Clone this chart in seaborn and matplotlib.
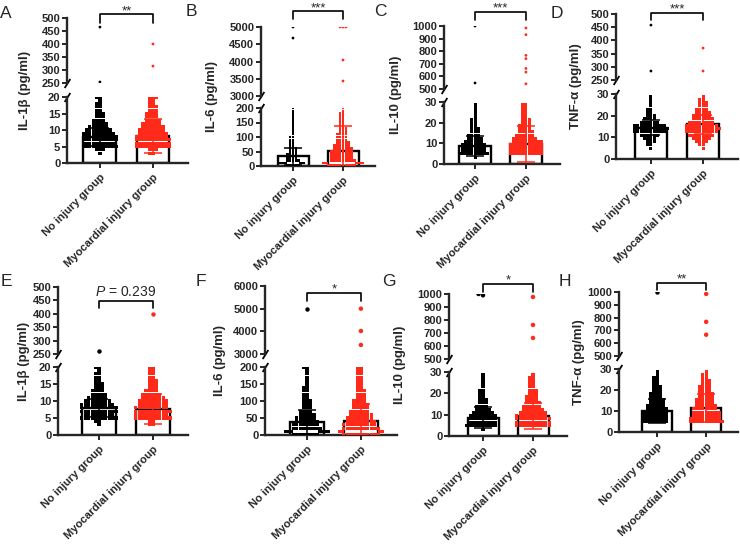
import warnings
import numpy as np
import pandas as pd
import seaborn as sns
import matplotlib.pyplot as plt
from matplotlib.transforms import blended_transform_factory

warnings.filterwarnings("ignore")

groups = ["No injury group", "Myocardial injury group"]
letters = ["A", "B", "C", "D", "E", "F", "G", "H"]
ylabels = ["IL-1β (pg/ml)", "IL-6 (pg/ml)", "IL-10 (pg/ml)", "TNF-α (pg/ml)"] * 2
signif = ["**", "***", "***", "***", "$\\mathit{P}$ = 0.239", "*", "*", "**"]

# axis ranges (lower part / upper part of the broken axis)
lower_top = [20, 200, 30, 30, 20, 200, 30, 30]
lower_step = [5, 50, 10, 10, 5, 50, 10, 10]
upper_lim = [(250, 500), (3000, 5000), (500, 1000), (250, 500),
             (250, 500), (3000, 6000), (500, 1000), (500, 1000)]
upper_step = [50, 500, 100, 50, 50, 1000, 100, 100]

# bars: mean and SD
bar_means = [[7.8, 8.2], [34, 53], [8.8, 9.7], [14.4, 16.0],
             [7.9, 7.6], [39, 42], [8.6, 9.3], [10.0, 11.5]]
bar_sd = [[2.7, 5.1], [29, 86], [4.7, 8.6], [3.5, 4.5],
          [2.6, 4.4], [36, 48], [5.0, 6.0], [5.6, 6.8]]

# value levels of the dot clouds and how many dots sit on each level
lv20 = [3, 4, 5, 6, 7, 8, 9, 10, 11, 12, 13, 14, 15, 16, 17, 18, 19, 20]
lv30 = [3, 5, 6.5, 8, 9.5, 11, 12.5, 14, 15.5, 17, 18.5, 20, 21.5, 23, 24.5, 26, 27.5, 29]
lv200 = [2, 10, 20, 30, 40, 50, 60, 70, 80, 90, 100, 110, 120, 130, 140, 150,
         160, 170, 180, 190, 200]
level_sets = [lv20, lv200, lv30, lv30, lv20, lv200, lv30, lv30]

counts_no = [
    [1, 3, 11, 10, 11, 11, 10, 8, 6, 5, 4, 3, 3, 2, 2, 2, 1, 2],
    [5, 5, 5, 4, 4, 3, 3, 2, 2, 2, 2, 1, 1, 1, 1, 1, 1, 1, 1, 1, 1],
    [1, 10, 8, 8, 8, 6, 5, 4, 3, 3, 2, 2, 2, 1, 1, 1, 1, 1],
    [0, 1, 2, 3, 4, 6, 10, 11, 10, 6, 4, 3, 2, 2, 1, 1, 1, 1],
    [1, 2, 11, 9, 11, 11, 10, 8, 6, 5, 4, 3, 3, 2, 2, 2, 1, 2],
    [8, 9, 9, 8, 7, 6, 5, 4, 3, 3, 3, 2, 2, 2, 2, 1, 1, 1, 1, 1, 2],
    [1, 10, 9, 9, 9, 7, 5, 4, 3, 3, 2, 2, 2, 1, 1, 1, 1, 1],
    [0, 8, 8, 8, 8, 7, 6, 5, 5, 4, 4, 3, 3, 2, 2, 2, 1, 1],
]
counts_mi = [
    [2, 3, 11, 11, 11, 10, 9, 8, 7, 6, 5, 4, 4, 3, 3, 2, 2, 3],
    [10, 10, 9, 8, 8, 8, 7, 6, 5, 4, 4, 4, 3, 3, 2, 2, 2, 2, 2, 1, 1],
    [0, 11, 11, 11, 11, 10, 8, 6, 5, 4, 4, 3, 3, 2, 2, 2, 2, 2],
    [0, 1, 2, 4, 6, 8, 10, 11, 10, 8, 7, 6, 5, 4, 3, 3, 2, 1],
    [2, 2, 11, 10, 11, 10, 9, 9, 7, 6, 4, 3, 3, 3, 2, 2, 2, 2],
    [11, 11, 11, 10, 9, 8, 7, 6, 5, 5, 4, 3, 3, 3, 2, 2, 2, 2, 2, 2, 2],
    [0, 11, 11, 11, 10, 9, 7, 6, 5, 4, 4, 3, 3, 2, 2, 2, 2, 1],
    [0, 11, 10, 9, 9, 8, 7, 6, 6, 5, 5, 4, 4, 3, 3, 2, 2, 1],
]
outliers_no = [[254, 465], [4680, 5000], [548, 1000], [284, 458],
               [261], [5000], [990, 1000], [1000]]
outliers_mi = [[315, 400], [3435, 4043, 5000, 5000, 5000],
               [541, 634, 663, 741, 767, 931, 984], [284, 371],
               [400], [3400, 4015, 5000], [662, 762, 977], [666, 767, 985]]

# layout in pixels of a 740 x 545 canvas
W, H = 740, 545
spine_x = [67, 261, 444, 616, 58, 265, 449, 619]
right_x = [188, 375, 560, 738, 188, 397, 567, 738]
xlims = [(-0.62, 1.66), (-0.64, 1.64), (-0.61, 1.67), (-0.67, 1.67),
         (-0.76, 1.65), (-0.78, 1.67), (-0.68, 1.68), (-0.78, 1.65)]
rows_px = [(18, 83, 97, 163), (27, 96, 108, 166), (26, 89, 102, 164), (14, 80, 94, 159),
           (287, 354, 367, 435), (286, 354, 367, 435), (294, 359, 372, 436), (292, 356, 369, 432)]
ylabel_x = [25, 212, 396, 576, 24, 220, 400, 579]
letter_xy = [(6, 13), (191, 12), (380, 12), (557, 13),
             (6, 282), (201, 282), (389, 282), (565, 282)]
# bracket line y, bracket foot y, text baseline y
bracket_px = [(14, 23, 14), (11, 19, 11), (12, 20, 11), (13, 20, 12),
              (301, 308, 296), (293, 301, 292), (284, 292, 283), (283, 290, 282)]
dot_size = [2.3, 2.0, 2.15, 2.25, 2.35, 2.35, 2.2, 2.2]
dot_up = [2.0, 2.0, 2.0, 2.0, 3.2, 3.2, 3.2, 3.2]

colors = ["black", "#ff2a1a"]

sns.set_style("ticks")
plt.rcParams["font.family"] = ["Liberation Sans", "DejaVu Sans"]
plt.rcParams["mathtext.fontset"] = "custom"
plt.rcParams["mathtext.it"] = "Liberation Sans:italic"
plt.rcParams["mathtext.rm"] = "Liberation Sans"


def px_rect(x0, y0, x1, y1):
    return [x0 / W, 1 - y1 / H, (x1 - x0) / W, (y1 - y0) / H]


def style_axis(ax):
    for side in ["top", "right"]:
        ax.spines[side].set_visible(False)
    for side in ["left", "bottom"]:
        ax.spines[side].set_linewidth(1.7)
    ax.tick_params(direction="out", length=3.5, width=1.4, labelsize=8, pad=1.3)
    ax.tick_params(axis="x", pad=3)
    for lab in ax.get_yticklabels():
        lab.set_fontweight("bold")
    ax.set_xlabel("")
    ax.set_ylabel("")


fig = plt.figure(figsize=(W / 100, H / 100), dpi=100)

for i in range(8):
    up_top, up_bot, lo_top, lo_bot = rows_px[i]
    ax_up = fig.add_axes(px_rect(spine_x[i], up_top, right_x[i], up_bot))
    ax_lo = fig.add_axes(px_rect(spine_x[i], lo_top, right_x[i], lo_bot))

    vals_no = list(np.repeat(level_sets[i], counts_no[i])) + outliers_no[i]
    vals_mi = list(np.repeat(level_sets[i], counts_mi[i])) + outliers_mi[i]
    df = pd.DataFrame({
        "group": [groups[0]] * len(vals_no) + [groups[1]] * len(vals_mi),
        "value": vals_no + vals_mi,
    })
    low = df[df["value"] <= lower_top[i]]
    high = df[df["value"] >= upper_lim[i][0]]

    # lower part: bars, dots, SD
    sns.barplot(x=groups, y=bar_means[i], order=groups, color="white", saturation=1,
                edgecolor="black", linewidth=1.7, width=0.62, errorbar=None,
                ax=ax_lo, zorder=1)
    sns.swarmplot(data=low, x="group", y="value", hue="group", order=groups,
                  hue_order=groups, palette=colors, size=dot_size[i], marker="s",
                  linewidth=0, legend=False, ax=ax_lo, zorder=3)
    for k in range(2):
        ax_lo.errorbar([k], [bar_means[i][k]], yerr=[bar_sd[i][k]], fmt="none",
                       ecolor=colors[k], elinewidth=1.1, capsize=6.5, capthick=1.1,
                       zorder=4)
    ax_lo.set_ylim(0, lower_top[i])
    ax_lo.set_yticks(list(range(0, lower_top[i] + 1, lower_step[i])))
    ax_lo.set_xlim(*xlims[i])
    ax_lo.set_xticks([0, 1])
    ax_lo.set_xticklabels(groups, rotation=45, ha="right", rotation_mode="anchor",
                          fontsize=9.2, fontweight="bold")
    style_axis(ax_lo)

    # upper part: the few high values
    sns.swarmplot(data=high, x="group", y="value", hue="group", order=groups,
                  hue_order=groups, palette=colors, size=dot_up[i], linewidth=0,
                  legend=False, ax=ax_up, zorder=3)
    ax_up.set_ylim(*upper_lim[i])
    ax_up.set_yticks(list(range(upper_lim[i][0], upper_lim[i][1] + 1, upper_step[i])))
    ax_up.set_xlim(*xlims[i])
    ax_up.set_xticks([])
    style_axis(ax_up)
    ax_up.spines["bottom"].set_visible(False)

    # break marks on the y axis
    kw = dict(marker=[(-1, -1.6), (1, 1.6)], markersize=6.5, linestyle="none",
              color="k", mec="k", mew=1.3, clip_on=False)
    ax_up.plot([0], [0], transform=ax_up.transAxes, **kw)
    ax_lo.plot([0], [1], transform=ax_lo.transAxes, **kw)

    # significance bracket
    yl, yb, yt = bracket_px[i]
    trans = blended_transform_factory(ax_up.transData, fig.transFigure)
    ax_up.plot([0, 0, 1, 1], [1 - yb / H, 1 - yl / H, 1 - yl / H, 1 - yb / H],
               transform=trans, color="k", lw=1.2, clip_on=False)
    ax_up.text(0.5, 1 - yt / H, signif[i], transform=trans, ha="center", va="baseline",
               fontsize=10 if i == 4 else 9.5, fontweight="normal")

    # y label and panel letter
    fig.text(ylabel_x[i] / W, 1 - ((up_top + lo_bot) / 2) / H, ylabels[i], rotation=90,
             ha="center", va="center", fontsize=9.5, fontweight="bold")
    lx, ly = letter_xy[i]
    fig.text(lx / W, 1 - ly / H, letters[i], ha="center", va="center", fontsize=12.5)

fig.savefig("out.png", dpi=100)
